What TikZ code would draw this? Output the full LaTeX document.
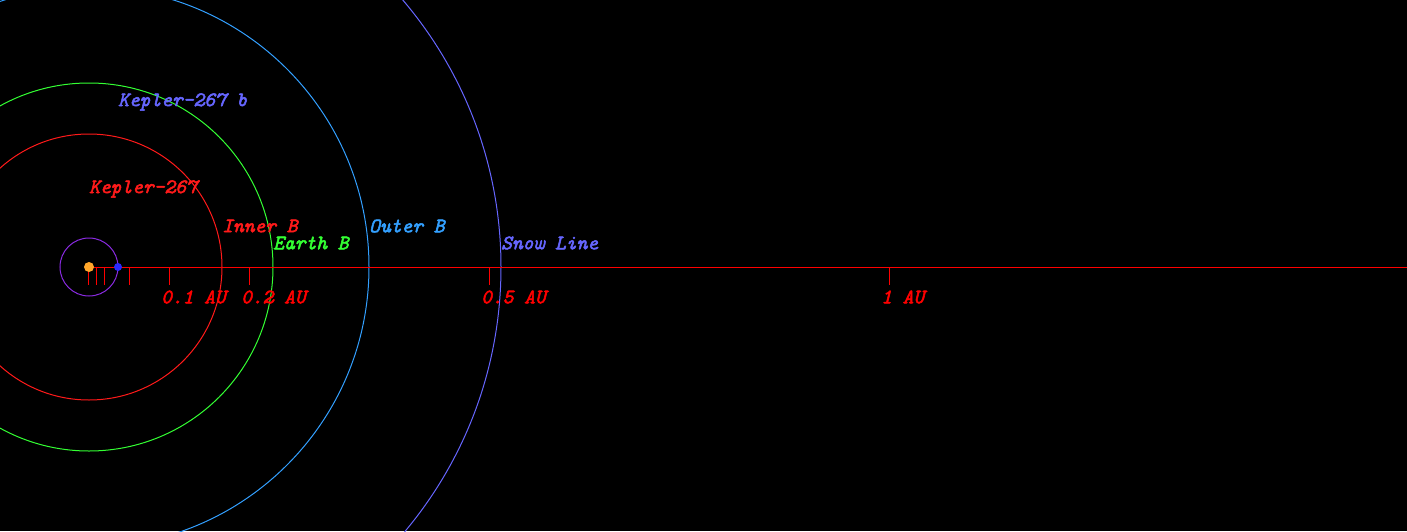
\documentclass[tikz,border=0pt]{standalone}
\usepackage{fontspec}
\newfontfamily\orbitfont{Latin Modern Mono}[ItalicFeatures={FakeBold=2.5}]
\usetikzlibrary{positioning}
\definecolor{AxisRed}{HTML}{FF0000}
\definecolor{OrbitViolet}{HTML}{8A2BE2}
\definecolor{PlanetBlue}{HTML}{2A2AFF}
\definecolor{StarOrange}{HTML}{FFA62A}
\definecolor{InnerRed}{HTML}{FF1A1A}
\definecolor{EarthGreen}{HTML}{33FF33}
\definecolor{OuterBlue}{HTML}{33A0FF}
\definecolor{SnowBlue}{HTML}{6666FF}
\tikzset{
    orbit/.style={
        line width=1pt
    },
    axisline/.style={
        draw=AxisRed,
        line width=1pt
    },
    bodylabel/.style={
        anchor=west,
        inner sep=0pt,
        font=\fontsize{20.5}{20.5}\selectfont\orbitfont\itshape
    },
    aulabel/.style={
        bodylabel,
        color=AxisRed
    },
    hoststar/.style={
        circle,
        fill=StarOrange,
        inner sep=0pt,
        minimum size=10pt
    },
    planetdot/.style={
        circle,
        fill=PlanetBlue,
        inner sep=0pt,
        minimum size=8pt
    }
}

\begin{document}
\begin{tikzpicture}[x=1pt, y=1pt]
    % Background
    \useasboundingbox (-89,-264) rectangle (1318,267);
    \fill[black] (-89,-264) rectangle (1318,267);
    \clip (-89,-264) rectangle (1318,267);

    % Orbits and zones
    \draw[orbit, SnowBlue] (0,0) circle (412);
    \draw[orbit, OuterBlue] (0,0) circle (280);
    \draw[orbit, EarthGreen] (0,0) circle (184);
    \draw[orbit, InnerRed] (0,0) circle (133);
    \draw[orbit, OrbitViolet] (0,0) circle (29);

    % Axis with ticks
    \draw[axisline] (0,0) -- (1318,0);
    \foreach \d in {0,8,16,40,80,160,400,800}
        \draw[axisline] (\d,0) -- (\d,-18);

    % Star and planet
    \node[hoststar] (host) at (0,0) {};
    \node[planetdot] (planetb) at (29,0) {};

    % Labels
    \node[bodylabel, color=SnowBlue] (lblplanet) at (29,165) {Kepler-267 b};
    \node[bodylabel, color=InnerRed] (lblstar) at (0,78) {Kepler-267};
    \node[bodylabel, color=InnerRed] (lblinner) at (133,41) {Inner B};
    \node[bodylabel, color=EarthGreen] (lblearth) at (184,24) {Earth B};
    \node[bodylabel, color=OuterBlue] (lblouter) at (280,41) {Outer B};
    \node[bodylabel, color=SnowBlue] (lblsnow) at (412,24) {Snow Line};

    % Scale labels
    \node[aulabel] (au01) at (72,-30) {0.1 AU};
    \node[aulabel] (au02) at (152,-30) {0.2 AU};
    \node[aulabel] (au05) at (392,-30) {0.5 AU};
    \node[aulabel] (au1) at (792,-30) {1 AU};
\end{tikzpicture}
\end{document}
